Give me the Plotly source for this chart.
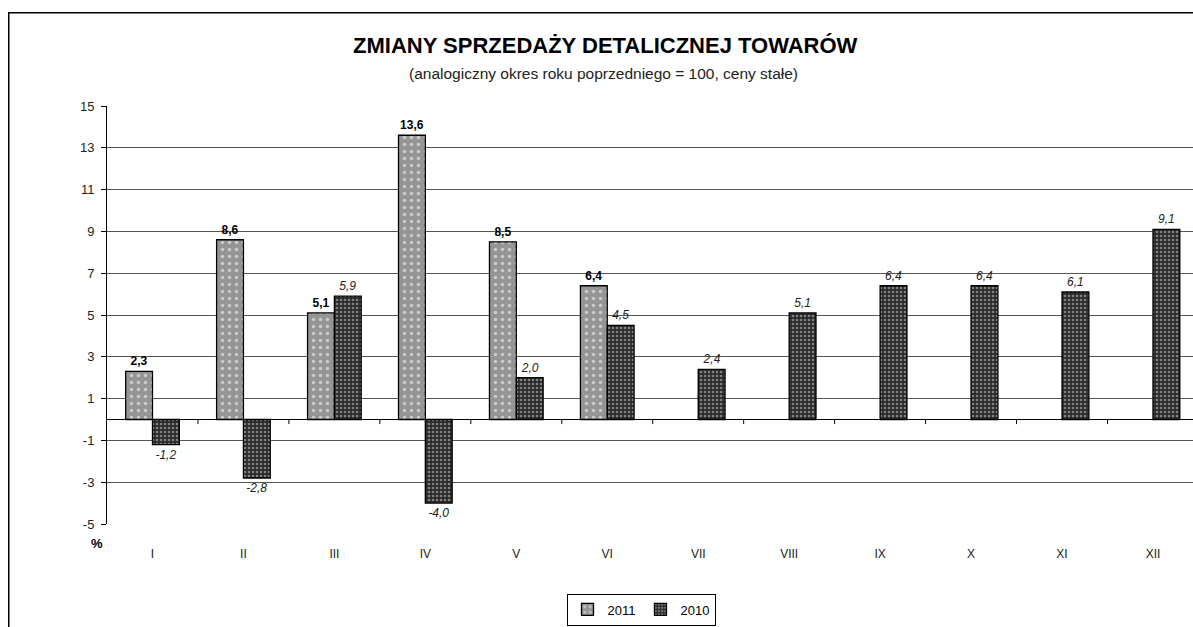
import plotly.graph_objects as go

months = ["I", "II", "III", "IV", "V", "VI", "VII", "VIII", "IX", "X", "XI", "XII"]
v2011 = [2.3, 8.6, 5.1, 13.6, 8.5, 6.4, None, None, None, None, None, None]
v2010 = [-1.2, -2.8, 5.9, -4.0, 2.0, 4.5, 2.4, 5.1, 6.4, 6.4, 6.1, 9.1]
ytick_vals = [-5, -3, -1, 1, 3, 5, 7, 9, 11, 13, 15]
ytick_text = [str(v) for v in ytick_vals]

W, H = 1193, 627
L, T = 107, 106
BOTTOM = 524
B = H - BOTTOM
PW, PH = W - L, BOTTOM - T
FONT = "Liberation Sans, Arial, sans-serif"


def fmt(v):
    return "" if v is None else f"{v:.1f}".replace(".", ",")


fig = go.Figure()
fig.add_trace(go.Bar(
    name="2011", x=months, y=v2011,
    text=[f"<b>{fmt(v)}</b>" if v is not None else "" for v in v2011],
    textposition="outside", cliponaxis=False,
    textfont=dict(family=FONT, size=12, color="black"),
    marker=dict(color="#959595", line=dict(color="black", width=1.3),
                pattern=dict(shape=".", fgcolor="white", bgcolor="#959595", size=7, solidity=0.2)),
))
fig.add_trace(go.Bar(
    name="2010", x=months, y=v2010,
    text=[f"<i>{fmt(v)}</i>" for v in v2010],
    textposition="outside", cliponaxis=False,
    textfont=dict(family=FONT, size=12, color="#222"),
    marker=dict(color="#2a2a2a", line=dict(color="black", width=1.3),
                pattern=dict(shape=".", fgcolor="#d8d8d8", bgcolor="#2a2a2a", size=4, solidity=0.35)),
))

# category boundary ticks on the zero line
shapes = []
for i in range(len(months) - 1):
    shapes.append(dict(type="line", xref="x", yref="y", x0=i + 0.5, x1=i + 0.5,
                       y0=0, y1=-0.22, line=dict(color="black", width=1)))


def px(x):
    return (x - L) / PW


def py(y):
    return (BOTTOM - y) / PH


# outer frame
shapes.append(dict(type="rect", xref="paper", yref="paper",
                   x0=px(8.75), x1=1.05, y0=-0.6, y1=py(12.75),
                   line=dict(color="black", width=1.5), layer="above"))

fig.update_layout(
    width=W, height=H,
    margin=dict(l=L, r=0, t=T, b=B, pad=0),
    paper_bgcolor="white", plot_bgcolor="white",
    font=dict(family=FONT, size=12, color="#222"),
    barmode="group", bargap=0.41, bargroupgap=0,
    showlegend=True,
    legend=dict(orientation="h", xref="container", yref="container",
                x=641 / W, xanchor="center", y=1.5 / H, yanchor="bottom",
                bordercolor="black", borderwidth=1, font=dict(size=13, color="black"),
                itemwidth=30, tracegroupgap=0),
    xaxis=dict(range=[-0.5, 11.44], showgrid=False, showline=False, ticks="",
               tickfont=dict(size=12, color="#222"), ticklabelstandoff=21, fixedrange=True),
    yaxis=dict(range=[-5, 15], tickvals=ytick_vals, ticktext=ytick_text,
               showgrid=True, gridcolor="#555", gridwidth=1,
               showline=True, linecolor="black", linewidth=1, ticks="outside", ticklen=5,
               tickcolor="black", zeroline=True, zerolinecolor="black", zerolinewidth=1,
               tickfont=dict(size=13, color="#222"), ticklabelstandoff=4),
    shapes=shapes,
    annotations=[
        dict(text="<b>ZMIANY SPRZEDAŻY DETALICZNEJ TOWARÓW</b>", xref="paper", yref="paper",
             x=px(605), y=py(45), xanchor="center", yanchor="middle", showarrow=False,
             font=dict(size=22, color="black")),
        dict(text="(analogiczny okres roku poprzedniego = 100, ceny stałe)", xref="paper", yref="paper",
             x=px(603), y=py(73), xanchor="center", yanchor="middle", showarrow=False,
             font=dict(size=15.5, color="#222")),
        dict(text="<b>%</b>", xref="paper", yref="paper", x=px(97), y=py(543),
             xanchor="center", yanchor="middle", showarrow=False, font=dict(size=13, color="black")),
    ],
)

fig.write_html(
    "out.html",
    config={"displayModeBar": False},
    post_script="document.body.style.margin='0';document.body.style.overflow='hidden';",
)
